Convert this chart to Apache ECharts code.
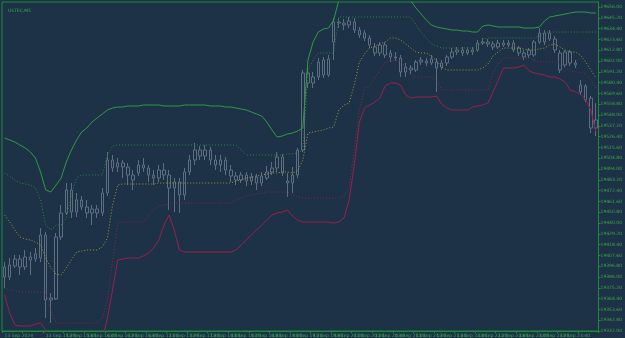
<!DOCTYPE html>
<html>
<head>
<meta charset="utf-8">
<script src="https://cdn.jsdelivr.net/npm/echarts@6/dist/echarts.min.js"></script>
<style>
  html, body { margin: 0; padding: 0; background: #1d3246; }
  #chart { width: 625px; height: 338px; }
</style>
</head>
<body>
<div id="chart"></div>
<script>
// time labels, one every 4 bars (M5)
const xLabels = [
  "13 Sep 2024", "13 Sep 15:00", "13 Sep 15:20", "13 Sep 15:40", "13 Sep 16:00", "13 Sep 16:20",
  "13 Sep 16:40", "13 Sep 17:00", "13 Sep 17:20", "13 Sep 17:40", "13 Sep 18:00", "13 Sep 18:20",
  "13 Sep 18:40", "13 Sep 19:00", "13 Sep 19:20", "13 Sep 19:40", "13 Sep 20:00", "13 Sep 20:20",
  "13 Sep 20:40", "13 Sep 21:00", "13 Sep 21:20", "13 Sep 21:40", "13 Sep 22:00", "13 Sep 22:20",
  "13 Sep 22:40", "13 Sep 23:00", "13 Sep 23:20", "13 Sep 23:40", "16 Sep 01:00"
];

// [open, close, low, high]
const candles = [
  [19396,19386,19375,19401],[19386,19398,19383,19405],[19397,19404,19395,19408],[19404,19396,19388,19408],
  [19396,19406,19393,19413],[19406,19403,19388,19411],[19404,19409,19401,19415],[19405,19428,19401,19435],
  [19428,19363,19345,19431],[19363,19365,19340,19370],[19364,19426,19363,19430],[19426,19450,19423,19458],
  [19450,19473,19448,19480],[19473,19451,19445,19480],[19451,19463,19446,19470],[19463,19456,19453,19467],
  [19456,19450,19445,19463],[19450,19454,19438,19458],[19454,19450,19445,19458],[19450,19470,19447,19475],
  [19470,19503,19467,19511],[19503,19495,19491,19508],[19496,19500,19491,19505],[19500,19496,19485,19503],
  [19496,19488,19478,19500],[19488,19483,19473,19493],[19490,19498,19487,19503],[19498,19495,19491,19505],
  [19495,19488,19481,19498],[19488,19485,19478,19493],[19485,19493,19481,19498],[19493,19488,19483,19500],
  [19488,19475,19453,19493],[19475,19481,19451,19485],[19481,19468,19450,19485],[19468,19491,19463,19495],
  [19491,19503,19488,19508],[19503,19513,19498,19520],[19513,19507,19503,19517],[19507,19513,19503,19518],
  [19513,19503,19498,19516],[19503,19498,19493,19508],[19498,19503,19491,19508],[19503,19493,19488,19506],
  [19493,19487,19481,19498],[19487,19483,19478,19491],[19483,19488,19480,19491],[19488,19482,19477,19491],
  [19482,19486,19478,19490],[19486,19480,19473,19489],[19480,19487,19477,19491],[19485,19491,19483,19497],
  [19491,19495,19488,19501],[19495,19506,19491,19511],[19506,19490,19487,19509],[19482,19480,19466,19490],
  [19480,19488,19470,19496],[19488,19513,19485,19515],[19513,19590,19511,19593],[19590,19580,19575,19595],
  [19580,19586,19575,19591],[19586,19601,19583,19605],[19603,19588,19585,19606],[19588,19604,19586,19608],
  [19621,19641,19603,19645],[19641,19640,19635,19645],[19640,19638,19633,19644],[19638,19642,19635,19646],
  [19641,19633,19630,19645],[19633,19628,19625,19636],[19630,19625,19622,19633],[19625,19618,19615,19628],
  [19616,19610,19607,19620],[19610,19618,19607,19621],[19618,19608,19605,19621],[19610,19606,19601,19613],
  [19606,19605,19602,19611],[19605,19591,19586,19608],[19591,19596,19586,19600],[19595,19593,19589,19598],
  [19593,19601,19591,19603],[19601,19603,19598,19606],[19602,19600,19597,19605],[19600,19604,19598,19608],
  [19601,19595,19571,19605],[19596,19600,19593,19603],[19600,19606,19597,19608],[19606,19611,19604,19615],
  [19611,19613,19608,19616],[19613,19610,19607,19616],[19610,19613,19608,19616],[19613,19611,19608,19616],
  [19613,19620,19611,19623],[19620,19621,19618,19625],[19621,19619,19616,19624],[19619,19616,19613,19622],
  [19616,19620,19614,19623],[19620,19618,19616,19623],[19618,19620,19616,19623],[19620,19613,19611,19623],
  [19615,19610,19607,19617],[19610,19606,19603,19613],[19608,19613,19605,19615],[19608,19621,19606,19623],
  [19621,19630,19619,19635],[19630,19621,19618,19633],[19624,19630,19622,19633],[19624,19613,19610,19627],
  [19610,19593,19590,19613],[19598,19611,19595,19613],[19611,19600,19597,19613],[19600,19598,19595,19603],
  [19578,19571,19568,19583],[19577,19563,19561,19579],[19565,19535,19530,19567],[19535,19543,19527,19560]
];

const upperOuter = [
  19525,19523,19521,19518,19515,19511,19505,19491,19473,19471,
  19478,19485,19501,19513,19523,19531,19535,19541,19545,19549,
  19553,19555,19556,19556,19557,19557,19557,19558,19558,19558,
  19558,19557,19557,19557,19557,19558,19558,19558,19558,19558,
  19557,19557,19557,19556,19556,19555,19554,19553,19551,19549,
  19547,19541,19533,19526,19527,19529,19530,19532,19535,19603,
  19621,19631,19634,19635,19643,19663,19673,19677,19679,19681,
  19681,19681,19679,19677,19675,19673,19671,19669,19666,19662,
  19655,19649,19643,19638,19636,19635,19634,19633,19633,19632,
  19632,19631,19631,19637,19638,19637,19636,19636,19636,19636,
  19636,19635,19635,19635,19636,19642,19646,19647,19648,19649,
  19650,19651,19651,19651,19650,19650
];

const upperInner = [
  19490,19487,19483,19480,19479,19478,19475,19463,19438,19433,
  19438,19438,19445,19468,19485,19488,19488,19488,19488,19488,
  19508,19517,19518,19518,19518,19518,19518,19518,19518,19518,
  19518,19518,19518,19518,19518,19518,19518,19518,19518,19518,
  19518,19518,19518,19518,19518,19518,19513,19508,19508,19508,
  19508,19508,19508,19508,19508,19509,19509,19510,19513,19593,
  19603,19610,19610,19610,19610,19646,19646,19646,19646,19646,
  19646,19646,19646,19646,19646,19646,19646,19646,19646,19646,
  19638,19631,19625,19619,19617,19615,19615,19615,19615,19615,
  19615,19615,19615,19624,19625,19625,19625,19625,19625,19625,
  19625,19625,19625,19625,19627,19631,19631,19631,19631,19631,
  19631,19631,19631,19631,19631,19631
];

const middle = [
  19448,19441,19433,19426,19424,19423,19421,19418,19405,19395,
  19389,19388,19395,19403,19411,19412,19413,19413,19413,19416,
  19425,19458,19478,19479,19479,19479,19479,19479,19479,19479,
  19480,19480,19480,19480,19480,19480,19480,19480,19480,19480,
  19480,19480,19480,19480,19480,19482,19483,19485,19486,19487,
  19488,19489,19490,19490,19491,19491,19490,19492,19503,19530,
  19531,19532,19533,19535,19536,19553,19558,19560,19578,19601,
  19609,19615,19617,19619,19621,19625,19625,19623,19619,19615,
  19611,19610,19610,19607,19602,19596,19593,19593,19593,19593,
  19593,19593,19593,19595,19599,19607,19611,19615,19615,19615,
  19615,19614,19613,19613,19614,19615,19618,19619,19616,19613,
  19611,19611,19608,19601,19593,19585
];

const lowerInner = [
  19375,19373,19372,19371,19371,19371,19371,19371,19371,19353,
  19340,19340,19340,19340,19340,19340,19340,19340,19340,19345,
  19363,19401,19440,19441,19441,19441,19441,19441,19448,19453,
  19457,19458,19459,19460,19460,19460,19460,19460,19460,19460,
  19460,19460,19460,19460,19460,19463,19465,19467,19468,19469,
  19470,19471,19471,19471,19471,19471,19468,19466,19465,19465,
  19465,19465,19465,19465,19465,19465,19467,19476,19513,19553,
  19575,19577,19585,19593,19601,19603,19603,19602,19595,19588,
  19586,19586,19586,19586,19583,19573,19573,19573,19573,19573,
  19573,19573,19573,19573,19573,19590,19599,19605,19605,19605,
  19605,19605,19605,19603,19601,19601,19601,19601,19601,19595,
  19592,19591,19591,19589,19583,19575
];

const lowerOuter = [
  19368,19350,19338,19337,19337,19337,19339,19340,19333,19325,
  19318,19315,19315,19315,19315,19315,19315,19315,19315,19323,
  19345,19373,19403,19404,19405,19405,19405,19407,19410,19415,
  19423,19438,19448,19433,19413,19411,19411,19411,19411,19411,
  19411,19411,19411,19411,19411,19413,19418,19423,19428,19433,
  19438,19443,19448,19450,19451,19453,19447,19443,19441,19441,
  19441,19441,19441,19441,19440,19441,19445,19463,19498,19541,
  19555,19558,19561,19565,19577,19580,19580,19578,19568,19565,
  19566,19566,19566,19566,19567,19559,19555,19553,19553,19553,
  19553,19556,19557,19558,19560,19571,19583,19595,19595,19595,
  19596,19598,19592,19590,19589,19588,19586,19586,19584,19581,
  19573,19571,19569,19563,19553,19531
];

const bg = "#1d3246";
const frame = "#1f8a3a";
const textGreen = "#3aa84c";
const candleGray = "#5c6e80";

const categories = candles.map((c, i) => (i % 4 === 0 ? xLabels[i / 4] : ""));

const chart = echarts.init(document.getElementById("chart"));

function band(name, data, color, dotted) {
  return {
    name: name,
    type: "line",
    data: data,
    symbol: "none",
    silent: true,
    z: 3,
    lineStyle: { color: color, width: 1, type: dotted ? [1, 2] : "solid" }
  };
}

chart.setOption({
  backgroundColor: bg,
  animation: false,
  title: {
    text: "USTEC,M5",
    left: 3,
    top: 3,
    textStyle: { color: textGreen, fontSize: 4.5, fontWeight: "normal", fontFamily: "DejaVu Sans" }
  },
  grid: {
    left: 2, right: 15, top: 2, bottom: 7,
    show: true, borderColor: frame, borderWidth: 1, backgroundColor: bg
  },
  xAxis: {
    type: "category",
    data: categories,
    boundaryGap: true,
    axisLine: { lineStyle: { color: frame } },
    axisTick: { show: true, interval: 3, length: 2, lineStyle: { color: frame } },
    axisLabel: {
      interval: 3, align: "left", margin: 2, showMinLabel: true, hideOverlap: false,
      color: textGreen, fontSize: 4.5, fontFamily: "DejaVu Sans"
    },
    splitLine: { show: false }
  },
  yAxis: {
    type: "value",
    position: "right",
    min: 19332,
    max: 19661,
    interval: 10.8,
    axisLine: { show: true, lineStyle: { color: frame } },
    axisTick: { show: true, length: 2, lineStyle: { color: frame } },
    axisLabel: {
      margin: 2, color: textGreen, fontSize: 4.5, fontFamily: "DejaVu Sans",
      showMaxLabel: false,
      formatter: v => v.toFixed(2)
    },
    splitLine: { show: false }
  },
  series: [
    {
      type: "candlestick",
      data: candles.map(c => [c[0], c[1], c[2], c[3]]),
      barWidth: 3,
      z: 2,
      itemStyle: {
        color: bg, color0: bg,
        borderColor: candleGray, borderColor0: candleGray, borderWidth: 1
      }
    },
    band("upperOuter", upperOuter, "#2f9a46", false),
    band("upperInner", upperInner, "#2c8248", true),
    band("middle", middle, "#9c9b30", true),
    band("lowerInner", lowerInner, "#85284a", true),
    band("lowerOuter", lowerOuter, "#9c1f4d", false)
  ]
});
</script>
</body>
</html>
